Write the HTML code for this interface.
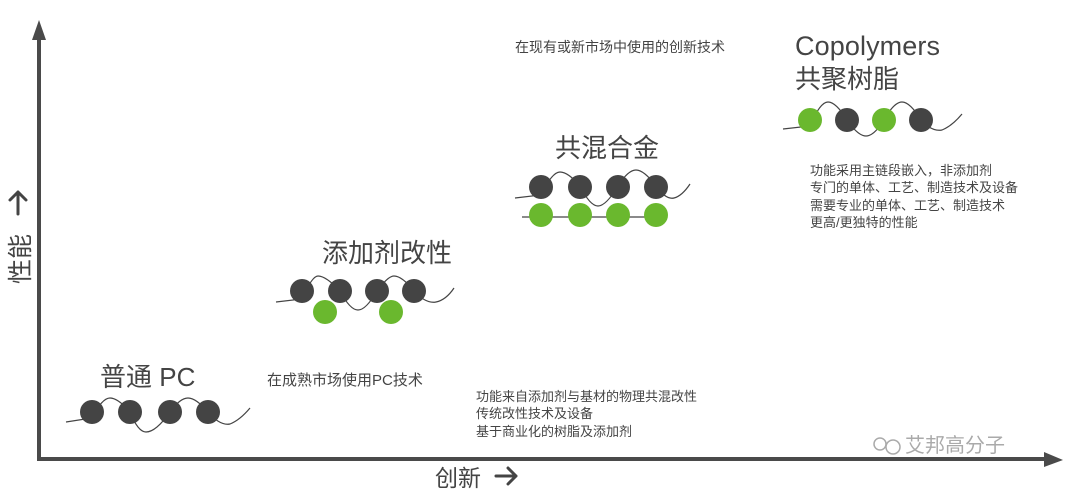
<!DOCTYPE html>
<html><head><meta charset="utf-8"><style>
html,body{margin:0;padding:0;background:#fff;}
svg{display:block}
text{font-family:"Liberation Sans","Noto Sans CJK SC",sans-serif;fill:#444}
</style></head><body>
<svg width="1080" height="493" viewBox="0 0 1080 493" xmlns="http://www.w3.org/2000/svg">
<!-- axes -->
<line x1="39" y1="38" x2="39" y2="460" stroke="#4a4a4a" stroke-width="4"/>
<polygon points="32,40 46,40 39,20" fill="#4a4a4a"/>
<line x1="37" y1="459" x2="1045" y2="459" stroke="#4a4a4a" stroke-width="4"/>
<polygon points="1044,452 1044,467 1063,460" fill="#4a4a4a"/>
<text x="0" y="0" font-size="25" transform="translate(29,284) rotate(-90)">性能</text>
<g stroke="#444" stroke-width="3" fill="none" stroke-linecap="round" stroke-linejoin="round">
<path d="M18,214 L18,192 M10,200 L18,192 L26,200"/>
<path d="M496,476 L516,476 M508,468 L516,476 L508,484"/>
</g>
<text x="435" y="486" font-size="23">创新</text>

<!-- 普通 PC -->
<text x="100" y="386" font-size="26">普通 PC</text>
<path d="M66,422 L92,418 Q102,398 110,398 Q118,398 130,412 Q138,432 146,432 Q156,432 170,412 Q180,398 188,398 Q196,398 208,412 Q220,426 230,424 Q240,420 250,408" fill="none" stroke="#444" stroke-width="1.2"/>
<g fill="#444"><circle cx="92" cy="412" r="12"/><circle cx="130" cy="412" r="12"/><circle cx="170" cy="412" r="12"/><circle cx="208" cy="412" r="12"/></g>
<text x="267" y="385" font-size="15">在成熟市场使用PC技术</text>

<!-- 添加剂改性 -->
<text x="322" y="262" font-size="26">添加剂改性</text>
<path d="M276,302 L302,299 Q312,276 318,276 Q326,276 340,291 Q350,310 358,310 Q366,310 377,291 Q388,276 394,276 Q402,276 414,291 Q426,304 436,302 Q446,300 454,288" fill="none" stroke="#444" stroke-width="1.2"/>
<g fill="#444"><circle cx="302" cy="291" r="12"/><circle cx="340" cy="291" r="12"/><circle cx="377" cy="291" r="12"/><circle cx="414" cy="291" r="12"/></g>
<g fill="#6ab82e"><circle cx="325" cy="312" r="12"/><circle cx="391" cy="312" r="12"/></g>
<text x="476" y="401" font-size="13">功能来自添加剂与基材的物理共混改性</text>
<text x="476" y="418" font-size="13">传统改性技术及设备</text>
<text x="476" y="436" font-size="13">基于商业化的树脂及添加剂</text>

<!-- 共混合金 -->
<text x="555" y="157" font-size="26">共混合金</text>
<path d="M515,198 L541,195 Q552,172 560,172 Q568,172 580,186 Q590,206 598,206 Q606,206 618,186 Q628,170 636,170 Q644,170 656,186 Q666,200 674,198 Q682,196 690,184" fill="none" stroke="#444" stroke-width="1.2"/>
<line x1="522" y1="217" x2="660" y2="217" stroke="#444" stroke-width="1.2"/>
<g fill="#444"><circle cx="541" cy="187" r="12"/><circle cx="580" cy="187" r="12"/><circle cx="618" cy="187" r="12"/><circle cx="656" cy="187" r="12"/></g>
<g fill="#6ab82e"><circle cx="541" cy="215" r="12"/><circle cx="580" cy="215" r="12"/><circle cx="618" cy="215" r="12"/><circle cx="656" cy="215" r="12"/></g>

<!-- Copolymers -->
<text x="515" y="52" font-size="14">在现有或新市场中使用的创新技术</text>
<text x="795" y="55" font-size="27" textLength="145">Copolymers</text>
<text x="795" y="88" font-size="26">共聚树脂</text>
<path d="M783,129 L810,126 Q820,102 828,102 Q836,102 847,120 Q858,136 866,136 Q874,136 884,120 Q894,102 902,102 Q910,102 921,120 Q932,132 942,130 Q952,126 962,114" fill="none" stroke="#444" stroke-width="1.2"/>
<g fill="#6ab82e"><circle cx="810" cy="120" r="12"/><circle cx="884" cy="120" r="12"/></g>
<g fill="#444"><circle cx="847" cy="120" r="12"/><circle cx="921" cy="120" r="12"/></g>
<text x="810" y="175" font-size="13">功能采用主链段嵌入，非添加剂</text>
<text x="810" y="192" font-size="13">专门的单体、工艺、制造技术及设备</text>
<text x="810" y="210" font-size="13">需要专业的单体、工艺、制造技术</text>
<text x="810" y="227" font-size="13">更高/更独特的性能</text>

<!-- watermark -->
<g fill="none" stroke="#aaa" stroke-width="1.5"><circle cx="880" cy="444" r="6"/><circle cx="893" cy="447" r="7"/></g>
<text x="905" y="452" font-size="20" style="fill:#aaa">艾邦高分子</text>
</svg>
</body></html>
